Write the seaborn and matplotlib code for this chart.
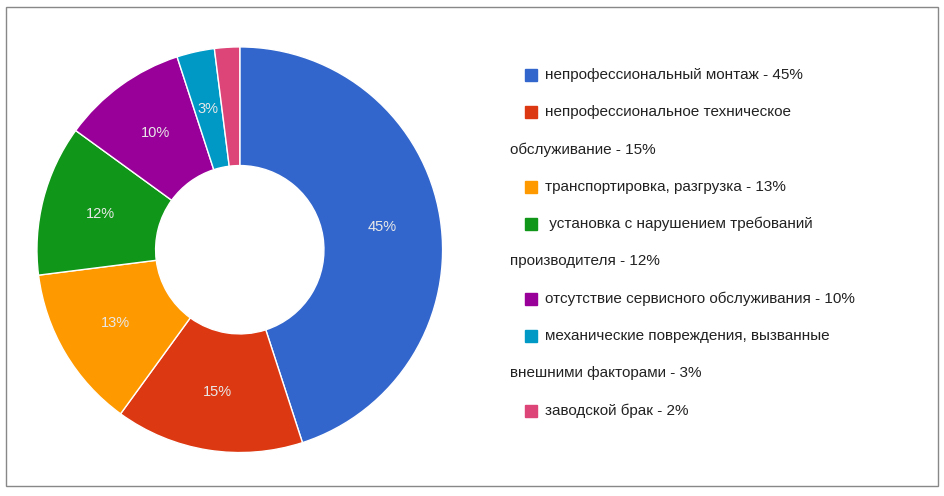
import matplotlib
matplotlib.use("Agg")
import matplotlib.pyplot as plt
import seaborn as sns
from matplotlib.patches import Rectangle

sns.set_theme(style="white")

categories = ["непрофессиональный монтаж", "непрофессиональное техническое обслуживание",
              "транспортировка, разгрузка", "установка с нарушением требований производителя",
              "отсутствие сервисного обслуживания", "механические повреждения, вызванные внешними факторами",
              "заводской брак"]
values = [45, 15, 13, 12, 10, 3, 2]
legend_lines = [["непрофессиональный монтаж - 45%"],
                ["непрофессиональное техническое", "обслуживание - 15%"],
                ["транспортировка, разгрузка - 13%"],
                [" установка с нарушением требований", "производителя - 12%"],
                ["отсутствие сервисного обслуживания - 10%"],
                ["механические повреждения, вызванные", "внешними факторами - 3%"],
                ["заводской брак - 2%"]]
colors = ["#3366cc", "#dc3912", "#ff9900", "#109618", "#990099", "#0099c6", "#dd4477"]

fig = plt.figure(figsize=(9.44, 4.96), dpi=100)
fig.patches.append(Rectangle((0.006, 0.02), 0.988, 0.965, transform=fig.transFigure,
                             fill=False, edgecolor="#888888", lw=1))
ax = fig.add_axes([0.037, 0.083, 0.434, 0.827])
wedges, texts, autotexts = ax.pie(values, colors=colors, startangle=90, counterclock=False,
       wedgeprops=dict(width=0.585, edgecolor="white", linewidth=1),
       autopct=lambda p: f"{p:.0f}%" if p >= 2.5 else "", pctdistance=0.71,
       textprops=dict(color="#e8e8e8", fontsize=10.5, family="Liberation Sans"))
ax.set_xlim(-1.01, 1.01)
ax.set_ylim(-1.01, 1.01)
ax.set_aspect("equal")

y = 1 - 75 / 496
step = 37.3 / 496
for col, lines in zip(colors, legend_lines):
    fig.patches.append(Rectangle((525 / 944, y - 6 / 496), 12 / 944, 12 / 496,
                                 transform=fig.transFigure, color=col))
    fig.text(545 / 944, y, lines[0], va="center", fontsize=11, color="#222222", family="Liberation Sans")
    y -= step
    for extra in lines[1:]:
        fig.text(510 / 944, y, extra, va="center", fontsize=11, color="#222222", family="Liberation Sans")
        y -= step

fig.savefig("out.png", dpi=100)
